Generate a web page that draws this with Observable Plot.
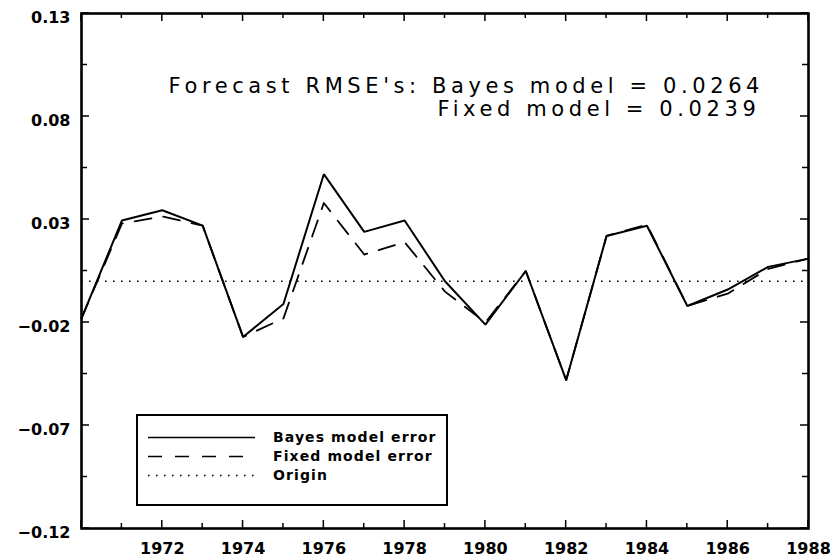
<!DOCTYPE html>
<html>
<head>
<meta charset="utf-8">
<script src="https://cdn.jsdelivr.net/npm/d3@7"></script>
<script src="https://cdn.jsdelivr.net/npm/@observablehq/plot@0.6"></script>
<style>
  html, body { margin: 0; padding: 0; background: white; }
</style>
</head>
<body>
<div id="chart"></div>
<script>
// ---- data ----
const years = [1970, 1971, 1972, 1973, 1974, 1975, 1976, 1977, 1978, 1979, 1980, 1981, 1982, 1983, 1984, 1985, 1986, 1987, 1988];
const bayesError = [-0.018, 0.0295, 0.0345, 0.027, -0.027, -0.011, 0.052, 0.024, 0.0295, 0.0, -0.021, 0.005, -0.048, 0.022, 0.027, -0.012, -0.004, 0.007, 0.011];
const fixedError = [-0.018, 0.028, 0.0315, 0.027, -0.027, -0.018, 0.038, 0.013, 0.019, -0.005, -0.020, 0.005, -0.048, 0.022, 0.0275, -0.012, -0.006, 0.006, 0.011];
const yLabelValues = [0.13, 0.08, 0.03, -0.02, -0.07, -0.12];
const yTickValues = [0.13, 0.105, 0.08, 0.055, 0.03, 0.005, -0.02, -0.045, -0.07, -0.095, -0.12];
const xLabelYears = [1972, 1974, 1976, 1978, 1980, 1982, 1984, 1986, 1988];
const legendLabels = ["Bayes model error", "Fixed model error", "Origin"];
const annotationLine1 = ["Forecast RMSE's: Bayes model = 0.0264"];
const annotationLine2 = ["Fixed model = 0.0239"];

// ---- tables ----
const bayesRows = years.map((yr, i) => ({year: yr, value: bayesError[i]}));
const fixedRows = years.map((yr, i) => ({year: yr, value: fixedError[i]}));

// ---- styles ----
const seriesStyles = [
  {stroke: "black", strokeWidth: 2, dash: null},
  {stroke: "black", strokeWidth: 1.8, dash: "17,12"},
  {stroke: "black", strokeWidth: 1.6, dash: "1.6,6.4"}
];

const W = 840, H = 560, ML = 81, MR = 32, MT = 13, MB = 32;

function insideTicks(index, scales) {
  const g = d3.create("svg:g").attr("stroke", "black").attr("stroke-width", 1.5);
  const top = MT, bottom = H - MB, left = ML, right = W - MR;
  years.forEach(yr => {
    const x = scales.x(yr);
    const len = yr % 2 === 0 ? 8 : 5;
    g.append("line").attr("x1", x).attr("x2", x).attr("y1", bottom).attr("y2", bottom - len);
    g.append("line").attr("x1", x).attr("x2", x).attr("y1", top).attr("y2", top + len);
  });
  yTickValues.forEach((v, i) => {
    const y = scales.y(v);
    const len = i % 2 === 0 ? 8 : 6;
    g.append("line").attr("x1", left).attr("x2", left + len).attr("y1", y).attr("y2", y);
    g.append("line").attr("x1", right).attr("x2", right - len).attr("y1", y).attr("y2", y);
  });
  return g.node();
}

function legend() {
  const g = d3.create("svg:g");
  g.append("rect")
    .attr("x", 137).attr("y", 415).attr("width", 310).attr("height", 90)
    .attr("fill", "white").attr("stroke", "black").attr("stroke-width", 2);
  legendLabels.forEach((lab, i) => {
    const cy = 437.5 + i * 19;
    const s = seriesStyles[i];
    const ln = g.append("line")
      .attr("x1", 148).attr("x2", 255).attr("y1", cy).attr("y2", cy)
      .attr("stroke", s.stroke).attr("stroke-width", Math.min(s.strokeWidth, 1.6));
    if (s.dash) ln.attr("stroke-dasharray", i === 1 ? "14,13" : s.dash);
    g.append("text")
      .attr("x", 273).attr("y", cy).attr("dy", "0.35em")
      .attr("text-anchor", "start")
      .attr("font-family", "DejaVu Sans").attr("font-weight", "bold")
      .attr("font-size", 14).style("letter-spacing", "1.1px")
      .attr("fill", "black")
      .text(lab);
  });
  return g.node();
}

const chart = Plot.plot({
  width: W,
  height: H,
  marginLeft: ML,
  marginRight: MR,
  marginTop: MT,
  marginBottom: MB,
  style: {fontFamily: "DejaVu Sans", background: "white", color: "black"},
  x: {domain: [1970, 1988], label: null},
  y: {domain: [-0.12, 0.13], label: null},
  marks: [
    Plot.axisY(yLabelValues, {
      tickSize: 0, tickPadding: 11, dy: 4, label: null,
      tickFormat: d3.format(".2f"),
      fontSize: 16, fontWeight: "bold", fill: "black"
    }),
    Plot.axisX(xLabelYears, {
      tickSize: 0, tickPadding: 14, label: null,
      tickFormat: d => String(d),
      fontSize: 16, fontWeight: "bold", fill: "black"
    }),
    Plot.ruleY([0], {stroke: seriesStyles[2].stroke, strokeWidth: seriesStyles[2].strokeWidth, strokeDasharray: seriesStyles[2].dash}),
    Plot.line(fixedRows, {x: "year", y: "value", stroke: seriesStyles[1].stroke, strokeWidth: seriesStyles[1].strokeWidth, strokeDasharray: seriesStyles[1].dash}),
    Plot.line(bayesRows, {x: "year", y: "value", stroke: seriesStyles[0].stroke, strokeWidth: seriesStyles[0].strokeWidth, strokeLinejoin: "miter"}),
    Plot.text(annotationLine1, {
      text: d => d, frameAnchor: "top-left", textAnchor: "start",
      dx: 87, dy: 65, fontSize: 21, fontWeight: "normal", fill: "black"
    }),
    Plot.text(annotationLine2, {
      text: d => d, frameAnchor: "top-left", textAnchor: "start",
      dx: 356, dy: 88, fontSize: 21, fontWeight: "normal", fill: "black"
    }),
    insideTicks,
    legend,
    Plot.frame({stroke: "black", strokeWidth: 2.6})
  ]
});

d3.select(chart).selectAll('g[aria-label="text"] text').style("letter-spacing", "4.6px");
document.getElementById("chart").appendChild(chart);
</script>
</body>
</html>
